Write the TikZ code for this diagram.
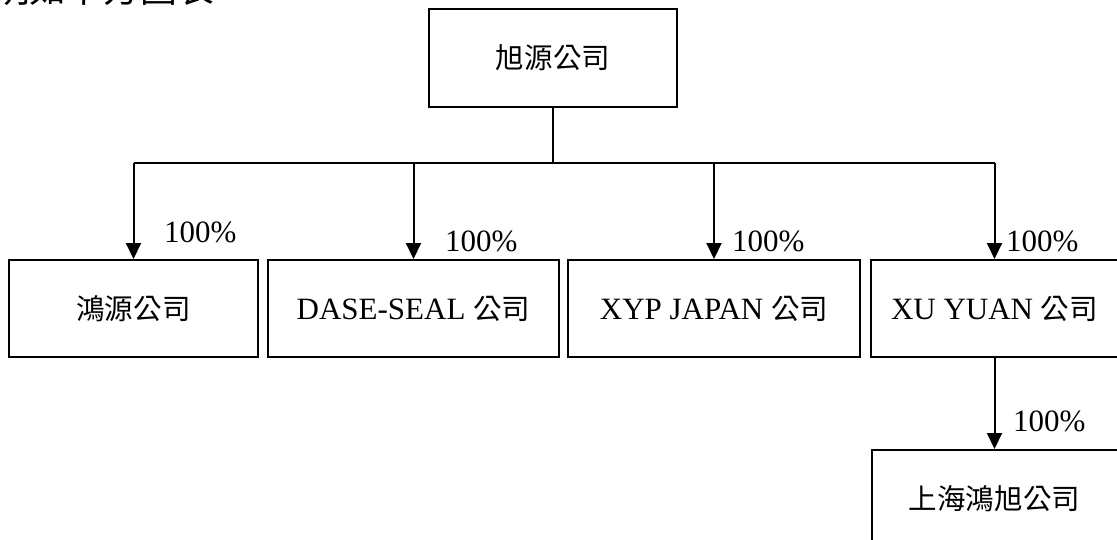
\documentclass[tikz,border=0pt]{standalone}
\usepackage{fontspec}
\setmainfont{Liberation Serif}
\newfontfamily\cjk[Scale=0.92]{Noto Sans CJK TC}
\usetikzlibrary{arrows.meta, positioning}

\begin{document}
\begin{tikzpicture}[x=1pt, y=-1pt,
        box/.style={draw, rectangle, line width=2pt, minimum height=97pt, align=center, inner sep=0pt, font=\fontsize{31}{37}\selectfont},
        arrow/.style={-{Triangle[width=15pt, length=16pt]}, line width=2pt},
        pct/.style={anchor=west, inner sep=0pt, font=\fontsize{31}{37}\selectfont}
    ]
        \useasboundingbox (0,0) rectangle (1117,539);
        % cut-off caption line at the top
        \begin{scope}
            \clip (0,0) rectangle (1117,539);
            \node[anchor=base west, inner sep=0pt, font=\fontsize{40}{44}\selectfont] (caption) at (-7,2) {\cjk 明如下方圖表};
        \end{scope}
        \node[box, minimum width=248pt, minimum height=98pt] (xuyuanco) at (553,58) {\cjk 旭源公司};
        \node[box, minimum width=249pt] (hongyuan) at (133.5,308.5) {\cjk 鴻源公司};
        \node[box, minimum width=291pt, right=8pt of hongyuan] (dase) {DASE-SEAL {\cjk 公司}};
        \node[box, minimum width=292pt, right=7pt of dase] (xyp) {XYP JAPAN {\cjk 公司}};
        \node[box, minimum width=247pt, right=9pt of xyp] (xuyuan) {XU YUAN {\cjk 公司}};
        \node[box, minimum width=246pt, below=91pt of xuyuan] (shanghai) {\cjk 上海鴻旭公司};
        % connectors
        \draw[line width=2pt] (xuyuanco.south) -- ++(0,55) coordinate (bar);
        \draw[line width=2pt] (hongyuan.north |- bar) -- (xuyuan.north |- bar);
        \foreach \n in {hongyuan, dase, xyp, xuyuan}
            \draw[arrow] (\n.north |- bar) -- (\n.north);
        \draw[arrow] (xuyuan) -- (shanghai);
        % share labels
        \node[pct] (pcthong) at (164,232) {100\%};
        \node[pct] (pctdase) at (445,241) {100\%};
        \node[pct] (pctxyp) at (732,241) {100\%};
        \node[pct] (pctxu) at (1006,241) {100\%};
        \node[pct] (pctsh) at (1013,421) {100\%};
    \end{tikzpicture}
\end{document}
